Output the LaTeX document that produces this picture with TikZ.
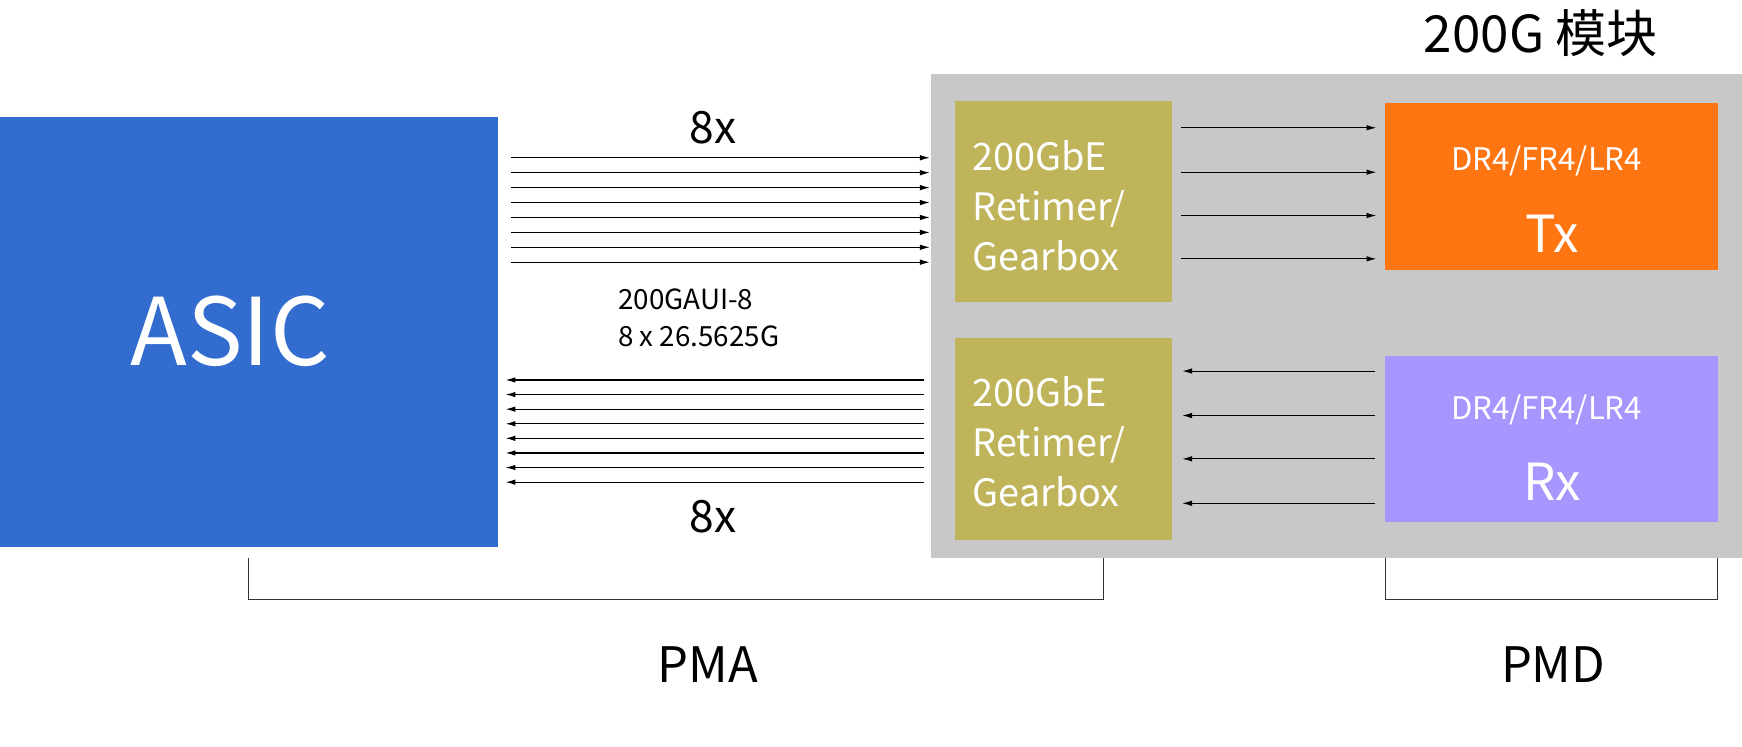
\documentclass[tikz,border=0pt]{standalone}
\usepackage{fontspec}
\setmainfont{Noto Sans CJK SC}
\usetikzlibrary{arrows.meta}
\definecolor{asic}{HTML}{316CCE}
\definecolor{gry}{HTML}{C8C8C8}
\definecolor{olv}{HTML}{BFB45A}
\definecolor{org}{HTML}{FF7511}
\definecolor{pur}{HTML}{A896FF}
\begin{document}
\begin{tikzpicture}[x=1pt,y=-1pt,
 box/.style={draw=none,inner sep=0pt},
 ar/.style={-{Latex[length=9pt,width=5pt]},line width=1pt},
 rt/.style={align=left,anchor=west,text=white,font=\fontsize{34}{45}\selectfont},
 br/.style={line width=1pt,draw=black!80}]
\useasboundingbox (0,0) rectangle (1568,672);
\fill[asic] (0,105) rectangle (448,492);
\node[text=white,font=\fontsize{84}{90}\selectfont] (asic) at (207,298) {ASIC};
\fill[gry] (838,67) rectangle (1568,502);
\node[font=\fontsize{46}{50}\selectfont] (title) at (1387,30) {200G 模块};
\fill[olv] (860,91) rectangle (1055,272);
\fill[olv] (860,304) rectangle (1055,486);
\node[rt] (rt1) at (872,185) {200GbE\\Retimer/\\Gearbox};
\node[rt] (rt2) at (872,398) {200GbE\\Retimer/\\Gearbox};
\fill[org] (1247,93) rectangle (1546,243);
\fill[pur] (1247,320) rectangle (1546,470);
\node[text=white,font=\fontsize{28}{30}\selectfont] (t1) at (1392,145) {DR4/FR4/LR4};
\node[text=white,font=\fontsize{46}{50}\selectfont] (t2) at (1397,210) {Tx};
\node[text=white,font=\fontsize{28}{30}\selectfont] (r1) at (1392,369) {DR4/FR4/LR4};
\node[text=white,font=\fontsize{46}{50}\selectfont] (r2) at (1397,434) {Rx};
\foreach \i in {0,...,7}{
 \coordinate (fa\i) at (460,142+13.43*\i); \coordinate (fb\i) at (837,142+13.43*\i);
 \draw[ar] (fa\i) -- (fb\i);
 \coordinate (ra\i) at (832,342+13.14*\i); \coordinate (rb\i) at (455,342+13.14*\i);
 \draw[ar] (ra\i) -- (rb\i);}
\foreach \y [count=\k] in {115,155,194,233}{
 \coordinate (ta\k) at (1063,\y); \coordinate (tb\k) at (1239,\y);
 \draw[ar] (ta\k) -- (tb\k);}
\foreach \y [count=\k] in {334,374,413,453}{
 \coordinate (xa\k) at (1238,\y); \coordinate (xb\k) at (1064,\y);
 \draw[ar] (xa\k) -- (xb\k);}
\node[font=\fontsize{40}{44}\selectfont] (e1) at (642,115) {8x};
\node[font=\fontsize{40}{44}\selectfont] (e2) at (642,465) {8x};
\node[anchor=west,align=left,font=\fontsize{25}{34}\selectfont] (g) at (553,286) {200GAUI-8\\8 x 26.5625G};
\draw[br] (224,502) -- (224,540) -- (993,540) -- (993,502);
\draw[br] (1247,502) -- (1247,540) -- (1546,540) -- (1546,502);
\node[font=\fontsize{44}{48}\selectfont] (pma) at (637,598) {PMA};
\node[font=\fontsize{44}{48}\selectfont] (pmd) at (1398,598) {PMD};
\end{tikzpicture}
\end{document}
